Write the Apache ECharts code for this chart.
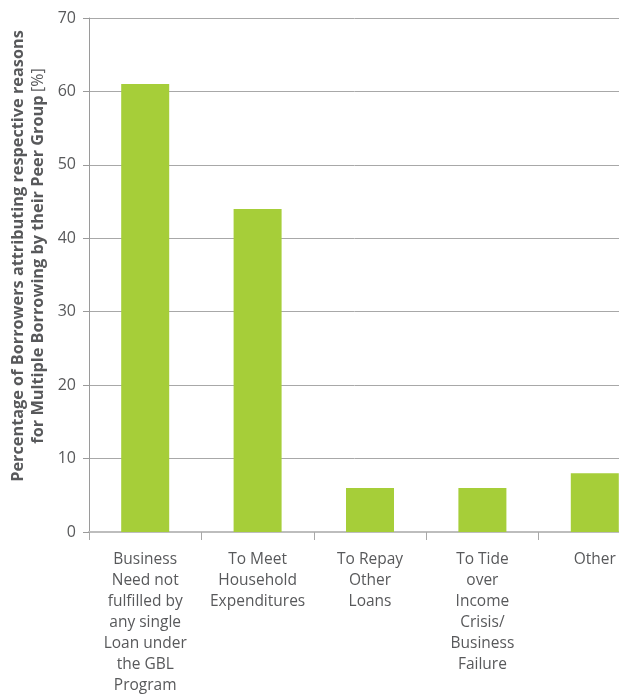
<!DOCTYPE html>
<html><head><meta charset="utf-8">
<script src="https://cdn.jsdelivr.net/npm/echarts@6/dist/echarts.min.js"></script>
<style>html,body{margin:0;padding:0;background:#fff}#c{width:619px;height:698px}</style>
</head><body><div id="c"></div>
<script>
const categories = [
  "Business\nNeed not\nfulfilled by\nany single\nLoan under\nthe GBL\nProgram",
  "To Meet\nHousehold\nExpenditures",
  "To Repay\nOther\nLoans",
  "To Tide\nover\nIncome\nCrisis/\nBusiness\nFailure",
  "Other"
];
const values = [61, 44, 6, 6, 8];
const yTicks = [0, 10, 20, 30, 40, 50, 60, 70];
const titleLine1 = "Percentage of Borrowers attributing respective reasons";
const titleLine2 = "for Multiple Borrowing by their Peer Group";

const chart = echarts.init(document.getElementById('c'));
const font = '"Open Sans", "Noto Sans", sans-serif';
chart.setOption({
  animation: false,
  grid: { left: 89, top: 18, right: -32, bottom: 166, containLabel: false, outerBoundsMode: 'none' },
  xAxis: {
    type: 'category', data: categories,
    axisLine: { lineStyle: { color: '#bdbdbd', width: 2 } },
    axisTick: { show: true, length: 8, lineStyle: { color: '#a8a8a8' } },
    axisLabel: { interval: 0, color: '#58595b', fontFamily: font, fontSize: 15.5, lineHeight: 21, margin: 17 }
  },
  yAxis: {
    type: 'value', min: 0, max: 70, interval: 10,
    axisLine: { show: true, lineStyle: { color: '#9a9a9a' } },
    axisTick: { show: true, length: 6, lineStyle: { color: '#9a9a9a' } },
    splitLine: { lineStyle: { color: '#a8a8a8' } },
    axisLabel: { color: '#58595b', fontFamily: font, fontSize: 16, margin: 13,
      formatter: v => yTicks.includes(v) ? String(v) : '' }
  },
  graphic: [{
    type: 'text', x: 28, y: 256, rotation: Math.PI / 2,
    style: {
      text: '{b|' + titleLine1 + '}\n{b|' + titleLine2 + '} {n|[%]}',
      align: 'center', verticalAlign: 'middle', fill: '#58595b',
      rich: {
        b: { fontFamily: font, fontWeight: 'bold', fontSize: 16.3, lineHeight: 20, fill: '#58595b' },
        n: { fontFamily: font, fontWeight: 'normal', fontSize: 16, lineHeight: 20, fill: '#58595b' }
      }
    }
  }],
  series: [{
    type: 'bar', data: values, barWidth: 48,
    itemStyle: { color: '#a6ce39' }
  }]
});
</script></body></html>
